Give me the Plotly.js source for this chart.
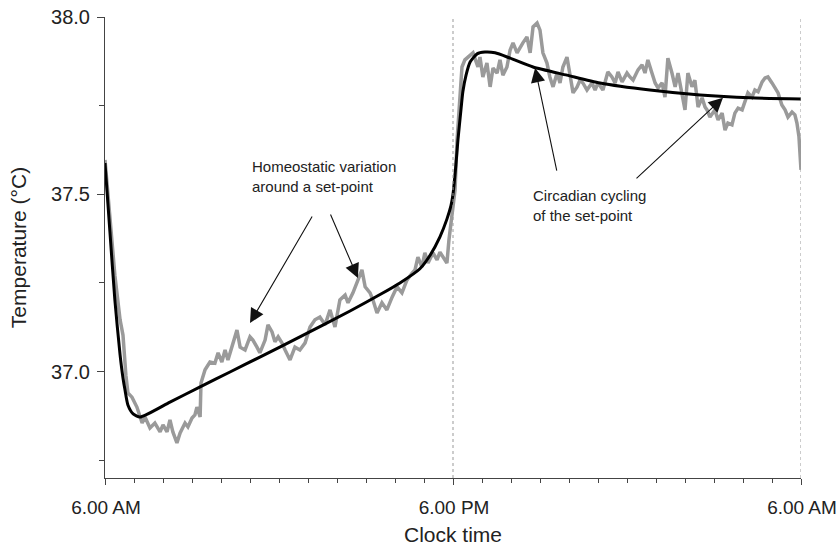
<!DOCTYPE html>
<html>
<head>
<meta charset="utf-8">
<script src="https://cdn.plot.ly/plotly-3.0.1.min.js"></script>
<style>html,body{margin:0;padding:0;background:#fff;}#chart{width:840px;height:546px;}</style>
</head>
<body>
<div id="chart"></div>
<script>
// Hours after 6.00 AM, measured temperature (grey, noisy)
const measuredHours = [0,0.17,0.34,0.52,0.62,0.72,0.79,0.93,1.10,1.28,1.38,1.55,1.72,1.90,2.00,2.14,2.24,2.34,2.48,2.59,2.76,2.86,3.00,3.10,3.17,3.28,3.31,3.45,3.62,3.79,3.90,4.03,4.14,4.24,4.41,4.55,4.66,4.83,5.00,5.10,5.24,5.34,5.52,5.62,5.76,5.86,5.97,6.10,6.21,6.38,6.55,6.72,6.90,7.07,7.24,7.41,7.59,7.76,7.93,8.10,8.28,8.38,8.55,8.72,8.86,8.97,9.14,9.24,9.38,9.55,9.72,9.90,10.07,10.24,10.41,10.59,10.69,10.79,10.93,11.03,11.14,11.31,11.45,11.55,11.72,11.79,11.86,11.97,12.07,12.14,12.24,12.31,12.41,12.52,12.69,12.86,12.93,13.03,13.17,13.28,13.38,13.52,13.62,13.72,13.86,13.97,14.07,14.21,14.31,14.41,14.55,14.66,14.76,14.90,15.00,15.10,15.24,15.34,15.45,15.59,15.69,15.79,15.93,16.03,16.14,16.28,16.38,16.48,16.62,16.79,16.90,17.00,17.17,17.34,17.48,17.59,17.69,17.83,18.00,18.10,18.21,18.38,18.52,18.62,18.72,18.86,18.97,19.07,19.21,19.31,19.41,19.55,19.66,19.76,19.90,20.00,20.10,20.24,20.34,20.45,20.59,20.69,20.76,20.86,21.03,21.14,21.28,21.38,21.48,21.62,21.72,21.83,21.97,22.07,22.17,22.31,22.41,22.52,22.66,22.76,22.86,23.00,23.10,23.21,23.34,23.45,23.55,23.69,23.79,23.86,23.93,24.00];
const measuredTemp = [37.597,37.428,37.272,37.146,37.103,36.990,36.940,36.928,36.900,36.855,36.872,36.841,36.855,36.830,36.850,36.830,36.864,36.830,36.799,36.827,36.855,36.844,36.869,36.878,36.900,36.872,36.968,37.005,37.027,37.024,37.053,37.027,37.061,37.033,37.081,37.117,37.069,37.061,37.098,37.089,37.069,37.053,37.089,37.132,37.112,37.084,37.098,37.081,37.061,37.033,37.069,37.061,37.081,37.126,37.146,37.154,37.132,37.174,37.126,37.202,37.216,37.194,37.222,37.258,37.287,37.239,37.222,37.202,37.165,37.194,37.174,37.210,37.239,37.222,37.258,37.278,37.287,37.323,37.295,37.335,37.306,37.335,37.315,37.337,37.315,37.306,37.371,37.436,37.512,37.653,37.766,37.859,37.879,37.887,37.899,37.859,37.887,37.831,37.870,37.803,37.856,37.842,37.879,37.836,37.859,37.907,37.927,37.899,37.915,37.927,37.944,37.899,37.972,37.983,37.963,37.899,37.870,37.831,37.803,37.842,37.814,37.859,37.887,37.842,37.786,37.803,37.822,37.814,37.794,37.814,37.794,37.814,37.794,37.845,37.831,37.814,37.845,37.817,37.842,37.831,37.822,37.851,37.865,37.842,37.879,37.842,37.814,37.800,37.814,37.774,37.884,37.842,37.803,37.842,37.786,37.738,37.842,37.803,37.822,37.746,37.772,37.746,37.738,37.718,37.738,37.710,37.729,37.681,37.701,37.696,37.729,37.743,37.738,37.766,37.786,37.774,37.794,37.789,37.817,37.828,37.831,37.814,37.800,37.786,37.752,37.738,37.718,37.732,37.724,37.701,37.662,37.569];

// Hours after 6.00 AM, fitted set-point curve (black, smooth)
const setpointHours = [0,0.17,0.34,0.52,0.62,0.69,0.79,0.97,1.21,2.24,3.28,4.31,5.34,6.72,8.45,9.50,10.17,10.86,11.21,11.55,11.79,11.93,12.00,12.10,12.17,12.28,12.34,12.45,12.59,12.83,13.10,13.45,13.97,14.76,15.93,17.07,18.79,20.52,22.24,24.00];
const setpointTemp = [37.588,37.394,37.202,37.047,36.982,36.948,36.906,36.881,36.872,36.914,36.957,36.999,37.041,37.098,37.171,37.218,37.250,37.290,37.328,37.380,37.430,37.468,37.500,37.583,37.653,37.743,37.789,37.836,37.873,37.896,37.901,37.899,37.884,37.859,37.836,37.814,37.794,37.780,37.772,37.769];

const xTickVals = [0, 12, 24];
const xTickText = ['6.00 AM', '6.00 PM', '6.00 AM'];
const yTickVals = [37.0, 37.5, 38.0];
const yTickText = ['37.0', '37.5', '38.0'];
const dividerHours = [12, 24];

// annotation arrow tips (hours, °C)
const arrowTipHours = [5.00, 8.72, 14.83, 21.31];
const arrowTipTemp = [37.137, 37.264, 37.856, 37.772];

const FONT = 'Liberation Sans, Arial, sans-serif';
const traces = [
  {x: measuredHours, y: measuredTemp, mode: 'lines', line: {color: '#9a9a9a', width: 3.5}, hoverinfo: 'skip'},
  {x: setpointHours, y: setpointTemp, mode: 'lines', line: {color: '#000', width: 3, shape: 'spline', smoothing: 0.6}, hoverinfo: 'skip'}
];

const arrowOffsets = [[63,-108],[-28,-65],[22,104],[-88,82]];
const annotations = arrowTipHours.map((h,i)=>({
  x: h, y: arrowTipTemp[i], xref: 'x', yref: 'y', text: '', showarrow: true,
  ax: arrowOffsets[i][0], ay: arrowOffsets[i][1],
  arrowhead: 2, arrowsize: 2.6, arrowwidth: 1.1, arrowcolor: '#111', standoff: 0
}));
annotations.push({
  xref: 'paper', yref: 'paper', x: (250-105)/696, y: 1-(176-17)/461, xanchor: 'left', yanchor: 'middle',
  text: 'Homeostatic variation<br>around a set-point', align: 'left', showarrow: false,
  font: {family: FONT, size: 15, color: '#222'}
});
annotations.push({
  xref: 'paper', yref: 'paper', x: (531-105)/696, y: 1-(205-17)/461, xanchor: 'left', yanchor: 'middle',
  text: 'Circadian cycling<br>of the set-point', align: 'left', showarrow: false,
  font: {family: FONT, size: 15, color: '#222'}
});

const shapes = dividerHours.map(h=>({
  type: 'line', xref: 'x', yref: 'paper', x0: h, x1: h, y0: 0, y1: 1,
  line: {color: '#999', width: 1, dash: '3px,3px'}
}));

const layout = {
  width: 840, height: 546,
  margin: {l: 105, r: 39, t: 17, b: 68},
  paper_bgcolor: '#fff', plot_bgcolor: '#fff',
  showlegend: false,
  font: {family: FONT, color: '#222'},
  xaxis: {
    range: [0, 24], tickmode: 'array', tickvals: xTickVals, ticktext: xTickText,
    ticks: 'outside', ticklen: 6, tickcolor: '#444', tickwidth: 1,
    minor: {tickmode: 'linear', tick0: 0, dtick: 1, ticks: 'outside', ticklen: 4, tickcolor: '#444', showgrid: false},
    showline: true, linecolor: '#444', linewidth: 1, showgrid: false, zeroline: false,
    tickfont: {family: FONT, size: 19, color: '#222'}, ticklabelshift: 1, ticklabelstandoff: 6,
    ticklabeloverflow: 'allow',
    title: {text: 'Clock time', font: {family: FONT, size: 21, color: '#222'}, standoff: 14}
  },
  yaxis: {
    range: [36.70, 38.0], tickmode: 'array', tickvals: yTickVals, ticktext: yTickText,
    ticks: 'outside', ticklen: 7, tickcolor: '#444', tickwidth: 1,
    minor: {tickmode: 'linear', tick0: 36.75, dtick: 0.25, ticks: 'outside', ticklen: 5, tickcolor: '#444', showgrid: false},
    showline: true, linecolor: '#444', linewidth: 1, showgrid: false, zeroline: false,
    tickfont: {family: FONT, size: 20, color: '#222'}, ticklabelstandoff: 3,
    title: {text: 'Temperature (°C)', font: {family: FONT, size: 21, color: '#222'}, standoff: 18}
  },
  annotations: annotations,
  shapes: shapes
};
Plotly.newPlot('chart', traces, layout, {displayModeBar: false, staticPlot: true});
</script>
</body>
</html>
